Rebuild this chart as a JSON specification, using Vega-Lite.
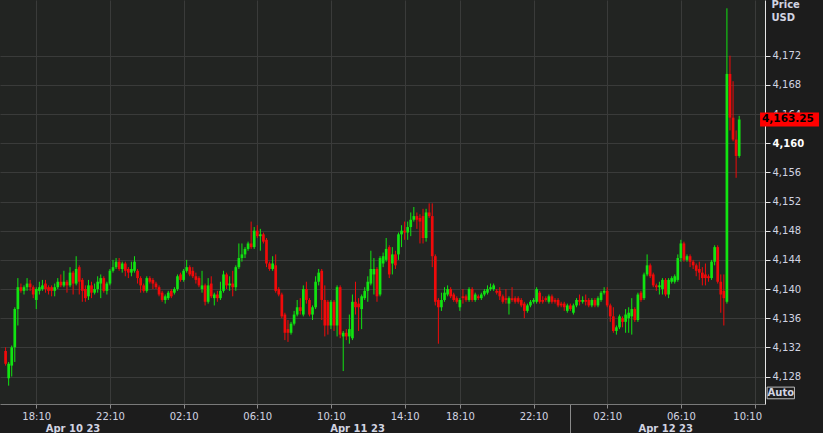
{
  "$schema": "https://vega.github.io/schema/vega-lite/v6.json",
  "width": 765,
  "height": 404,
  "autosize": {"type": "none"},
  "padding": {"left": 0, "top": 0, "right": 58, "bottom": 29},
  "background": "#1c1c1c",
  "config": {"view": {"fill": "#222422", "stroke": null}, "font": "DejaVu Sans"},
  "datasets": {
    "candles": [
      {"i":-1,"o":4131.5,"h":4132,"l":4129.5,"c":4129.75},
      {"i":0,"o":4127.75,"h":4130,"l":4126.75,"c":4129.75},
      {"i":1,"o":4129.5,"h":4132.25,"l":4128,"c":4132},
      {"i":2,"o":4132,"h":4137.5,"l":4130,"c":4137.25},
      {"i":3,"o":4137.25,"h":4141.5,"l":4135,"c":4140.25},
      {"i":4,"o":4140.25,"h":4140.75,"l":4139.5,"c":4139.75},
      {"i":5,"o":4139.75,"h":4140.5,"l":4139.25,"c":4140.25},
      {"i":6,"o":4140.25,"h":4141.5,"l":4139.75,"c":4140.75},
      {"i":7,"o":4140.75,"h":4141.25,"l":4139.75,"c":4140.25},
      {"i":8,"o":4140.25,"h":4140.5,"l":4138.75,"c":4139.25},
      {"i":9,"o":4138.5,"h":4140.25,"l":4137.25,"c":4140},
      {"i":10,"o":4139.75,"h":4141,"l":4139.25,"c":4140.25},
      {"i":11,"o":4140,"h":4141.25,"l":4139.75,"c":4140.5},
      {"i":12,"o":4140.75,"h":4141.25,"l":4139.5,"c":4140},
      {"i":13,"o":4140.25,"h":4140.5,"l":4139.25,"c":4139.75},
      {"i":14,"o":4140.25,"h":4140.5,"l":4139,"c":4139.75},
      {"i":15,"o":4139.75,"h":4140.75,"l":4139,"c":4140.25},
      {"i":16,"o":4140.25,"h":4141.5,"l":4140,"c":4141},
      {"i":17,"o":4141,"h":4142,"l":4140.25,"c":4140.5},
      {"i":18,"o":4140.5,"h":4142.5,"l":4140.25,"c":4141},
      {"i":19,"o":4141,"h":4141.25,"l":4139.5,"c":4140.5},
      {"i":20,"o":4140.5,"h":4143,"l":4140.25,"c":4142.25},
      {"i":21,"o":4142.25,"h":4142.5,"l":4139.25,"c":4140.75},
      {"i":22,"o":4140.75,"h":4144.5,"l":4140.5,"c":4142.75},
      {"i":23,"o":4143,"h":4143.25,"l":4139.25,"c":4141},
      {"i":24,"o":4141.25,"h":4141.5,"l":4138.25,"c":4139.75},
      {"i":25,"o":4140,"h":4140.5,"l":4138.25,"c":4138.75},
      {"i":26,"o":4139,"h":4141.25,"l":4138.5,"c":4140.5},
      {"i":27,"o":4140.5,"h":4141,"l":4138.75,"c":4139.5},
      {"i":28,"o":4139.5,"h":4140.75,"l":4139.25,"c":4140},
      {"i":29,"o":4140,"h":4141.75,"l":4139.5,"c":4141},
      {"i":30,"o":4140.75,"h":4142,"l":4138.75,"c":4141.5},
      {"i":31,"o":4141.5,"h":4141.75,"l":4139.5,"c":4139.75},
      {"i":32,"o":4139.75,"h":4141,"l":4139.25,"c":4140.75},
      {"i":33,"o":4140.75,"h":4142.75,"l":4140.5,"c":4142.5},
      {"i":34,"o":4142.5,"h":4144,"l":4142.25,"c":4143},
      {"i":35,"o":4143,"h":4144.25,"l":4142.75,"c":4143.75},
      {"i":36,"o":4143.75,"h":4144.25,"l":4142.5,"c":4142.75},
      {"i":37,"o":4142.75,"h":4143.75,"l":4142.25,"c":4143.5},
      {"i":38,"o":4143.5,"h":4143.75,"l":4141.75,"c":4142.5},
      {"i":39,"o":4142.75,"h":4143,"l":4141.5,"c":4142.25},
      {"i":40,"o":4142.25,"h":4143.75,"l":4141.75,"c":4142.75},
      {"i":41,"o":4142.5,"h":4144.5,"l":4142.25,"c":4143.75},
      {"i":42,"o":4142.5,"h":4142.75,"l":4140.75,"c":4141.5},
      {"i":43,"o":4141.5,"h":4141.75,"l":4139.5,"c":4140.5},
      {"i":44,"o":4140.5,"h":4140.75,"l":4139.5,"c":4139.75},
      {"i":45,"o":4139.75,"h":4141.75,"l":4139.5,"c":4141.5},
      {"i":46,"o":4141.5,"h":4141.75,"l":4140.75,"c":4141},
      {"i":47,"o":4141.25,"h":4141.5,"l":4140,"c":4140.75},
      {"i":48,"o":4140.75,"h":4141,"l":4140,"c":4140.25},
      {"i":49,"o":4140.25,"h":4140.5,"l":4139,"c":4139.25},
      {"i":50,"o":4139.5,"h":4139.75,"l":4138.25,"c":4138.5},
      {"i":51,"o":4138.5,"h":4139.25,"l":4138,"c":4139},
      {"i":52,"o":4138.75,"h":4139.75,"l":4138.5,"c":4139.5},
      {"i":53,"o":4139.75,"h":4140,"l":4138.75,"c":4139},
      {"i":54,"o":4139.5,"h":4140.25,"l":4139.25,"c":4140},
      {"i":55,"o":4140,"h":4142,"l":4139.75,"c":4141.75},
      {"i":56,"o":4142,"h":4142.25,"l":4141,"c":4141.25},
      {"i":57,"o":4141.25,"h":4142.75,"l":4141,"c":4142.5},
      {"i":58,"o":4142.5,"h":4144,"l":4142.25,"c":4143},
      {"i":59,"o":4143,"h":4143.25,"l":4141.75,"c":4142},
      {"i":60,"o":4142.5,"h":4143,"l":4141.5,"c":4141.75},
      {"i":61,"o":4141.75,"h":4142.25,"l":4140.75,"c":4141.25},
      {"i":62,"o":4141.5,"h":4141.75,"l":4140.25,"c":4140.5},
      {"i":63,"o":4140,"h":4142.5,"l":4139.5,"c":4140.5},
      {"i":64,"o":4140.5,"h":4140.75,"l":4137.75,"c":4138.25},
      {"i":65,"o":4138.25,"h":4141.5,"l":4138,"c":4140.5},
      {"i":66,"o":4140.75,"h":4141.75,"l":4138.75,"c":4139},
      {"i":67,"o":4138.75,"h":4139.5,"l":4137.75,"c":4139.25},
      {"i":68,"o":4139.25,"h":4139.75,"l":4138.25,"c":4138.75},
      {"i":69,"o":4138.75,"h":4141,"l":4138.5,"c":4139.75},
      {"i":70,"o":4139.75,"h":4142.5,"l":4139.5,"c":4142},
      {"i":71,"o":4142,"h":4142.25,"l":4140,"c":4140.5},
      {"i":72,"o":4140.5,"h":4141.75,"l":4139.75,"c":4140.75},
      {"i":73,"o":4140.75,"h":4142.5,"l":4139,"c":4140.25},
      {"i":74,"o":4140.25,"h":4143.25,"l":4139.75,"c":4143},
      {"i":75,"o":4143,"h":4146.25,"l":4142.75,"c":4144.25},
      {"i":76,"o":4144.25,"h":4146.25,"l":4143.75,"c":4144.75},
      {"i":77,"o":4144.75,"h":4145.75,"l":4144.25,"c":4145.5},
      {"i":78,"o":4145.5,"h":4146.5,"l":4145.25,"c":4146.25},
      {"i":79,"o":4146.25,"h":4149.25,"l":4145.5,"c":4145.75},
      {"i":80,"o":4145.75,"h":4148.5,"l":4145.5,"c":4148},
      {"i":81,"o":4148,"h":4148.75,"l":4147,"c":4147.25},
      {"i":82,"o":4147.25,"h":4148.25,"l":4145.25,"c":4147.5},
      {"i":83,"o":4147.5,"h":4147.75,"l":4146.25,"c":4146.5},
      {"i":84,"o":4146.75,"h":4147,"l":4143,"c":4143.5},
      {"i":85,"o":4143.5,"h":4143.75,"l":4142.5,"c":4142.75},
      {"i":86,"o":4142.75,"h":4144.5,"l":4142.5,"c":4143.5},
      {"i":87,"o":4143.25,"h":4144.75,"l":4139.5,"c":4139.75},
      {"i":88,"o":4140,"h":4140.25,"l":4139,"c":4139.25},
      {"i":89,"o":4139.25,"h":4139.5,"l":4136,"c":4136.25},
      {"i":90,"o":4136.5,"h":4136.75,"l":4133,"c":4134},
      {"i":91,"o":4134.5,"h":4135.75,"l":4132.75,"c":4134},
      {"i":92,"o":4134,"h":4135.5,"l":4133.75,"c":4135.25},
      {"i":93,"o":4135.25,"h":4137,"l":4135,"c":4136.5},
      {"i":94,"o":4136.5,"h":4138.5,"l":4136.25,"c":4137.5},
      {"i":95,"o":4137.5,"h":4138.75,"l":4136.5,"c":4137},
      {"i":96,"o":4136.5,"h":4140.5,"l":4136.25,"c":4140},
      {"i":97,"o":4140,"h":4141,"l":4138,"c":4138.5},
      {"i":98,"o":4138.5,"h":4138.75,"l":4136.25,"c":4136.5},
      {"i":99,"o":4136.5,"h":4137.75,"l":4135.75,"c":4137.5},
      {"i":100,"o":4137.5,"h":4141.75,"l":4137.25,"c":4141},
      {"i":101,"o":4141,"h":4142.75,"l":4140.5,"c":4142.25},
      {"i":102,"o":4142.5,"h":4142.75,"l":4135.75,"c":4138.5},
      {"i":103,"o":4138.5,"h":4140.5,"l":4133.5,"c":4135},
      {"i":104,"o":4138.25,"h":4138.5,"l":4133.75,"c":4135},
      {"i":105,"o":4135,"h":4138.5,"l":4134.5,"c":4138.25},
      {"i":106,"o":4138.25,"h":4138.5,"l":4134.25,"c":4135},
      {"i":107,"o":4135,"h":4140.5,"l":4133.5,"c":4140.25},
      {"i":108,"o":4140.25,"h":4140.5,"l":4133.25,"c":4133.75},
      {"i":109,"o":4133.5,"h":4134.25,"l":4128.75,"c":4134},
      {"i":110,"o":4134,"h":4134.5,"l":4133,"c":4133.5},
      {"i":111,"o":4133.5,"h":4136.5,"l":4132.5,"c":4134.5},
      {"i":112,"o":4133.25,"h":4139.25,"l":4133,"c":4138.25},
      {"i":113,"o":4138.25,"h":4141,"l":4136.5,"c":4137.5},
      {"i":114,"o":4138,"h":4138.75,"l":4134.25,"c":4137.5},
      {"i":115,"o":4137.25,"h":4139.25,"l":4134.5,"c":4139},
      {"i":116,"o":4138.75,"h":4140.25,"l":4138.5,"c":4139.75},
      {"i":117,"o":4139.75,"h":4141.75,"l":4138.25,"c":4141},
      {"i":118,"o":4140.75,"h":4145.25,"l":4140.5,"c":4142.75},
      {"i":119,"o":4142,"h":4144.25,"l":4139.25,"c":4142.75},
      {"i":120,"o":4142.75,"h":4143,"l":4138.25,"c":4139},
      {"i":121,"o":4139.25,"h":4144.5,"l":4139,"c":4144.25},
      {"i":122,"o":4143.5,"h":4145,"l":4143,"c":4144.5},
      {"i":123,"o":4144,"h":4147,"l":4143.75,"c":4145.5},
      {"i":124,"o":4145.75,"h":4146,"l":4141.5,"c":4142},
      {"i":125,"o":4143.5,"h":4145.75,"l":4142,"c":4144.75},
      {"i":126,"o":4144.75,"h":4145.25,"l":4142.75,"c":4143.25},
      {"i":127,"o":4144.75,"h":4147.75,"l":4144,"c":4147.5},
      {"i":128,"o":4147.5,"h":4148.75,"l":4145.75,"c":4148},
      {"i":129,"o":4148,"h":4149.25,"l":4146.75,"c":4147.75},
      {"i":130,"o":4147.75,"h":4149.25,"l":4146.75,"c":4148.5},
      {"i":131,"o":4148.5,"h":4150.5,"l":4147.25,"c":4149.5},
      {"i":132,"o":4149.5,"h":4151.25,"l":4149.25,"c":4150},
      {"i":133,"o":4150,"h":4150.5,"l":4148.25,"c":4149.5},
      {"i":134,"o":4149.75,"h":4150.25,"l":4146.25,"c":4149.25},
      {"i":135,"o":4150,"h":4151,"l":4146.25,"c":4147},
      {"i":136,"o":4147,"h":4151,"l":4146.5,"c":4150.5},
      {"i":137,"o":4150.5,"h":4151.75,"l":4149.75,"c":4150},
      {"i":138,"o":4150,"h":4151.75,"l":4143,"c":4144.5},
      {"i":139,"o":4144.5,"h":4144.75,"l":4137.75,"c":4138.25},
      {"i":140,"o":4138.5,"h":4138.75,"l":4132.5,"c":4137.5},
      {"i":141,"o":4137.5,"h":4139.5,"l":4137,"c":4138.5},
      {"i":142,"o":4138.5,"h":4140.25,"l":4138.25,"c":4139.5},
      {"i":143,"o":4139.25,"h":4140.5,"l":4139,"c":4140},
      {"i":144,"o":4140,"h":4140.25,"l":4138.75,"c":4139},
      {"i":145,"o":4139.25,"h":4139.5,"l":4138.25,"c":4138.5},
      {"i":146,"o":4138.75,"h":4139,"l":4138,"c":4138.25},
      {"i":147,"o":4137.5,"h":4138.75,"l":4137,"c":4138.5},
      {"i":148,"o":4139,"h":4140,"l":4138,"c":4138.75},
      {"i":149,"o":4139,"h":4139.25,"l":4138.25,"c":4138.5},
      {"i":150,"o":4138.5,"h":4140.25,"l":4138.25,"c":4140},
      {"i":151,"o":4140,"h":4140.25,"l":4138.25,"c":4138.5},
      {"i":152,"o":4138.5,"h":4139.5,"l":4138.25,"c":4139.25},
      {"i":153,"o":4139,"h":4139.25,"l":4138.5,"c":4138.75},
      {"i":154,"o":4138.75,"h":4139.5,"l":4138.5,"c":4139.25},
      {"i":155,"o":4139.25,"h":4140,"l":4139,"c":4139.75},
      {"i":156,"o":4139.5,"h":4140.5,"l":4139.25,"c":4140},
      {"i":157,"o":4140,"h":4140.75,"l":4139.75,"c":4140.25},
      {"i":158,"o":4140,"h":4140.75,"l":4139.75,"c":4140.5},
      {"i":159,"o":4139.75,"h":4140,"l":4139.25,"c":4139.5},
      {"i":160,"o":4139.75,"h":4140.25,"l":4138.5,"c":4139},
      {"i":161,"o":4139,"h":4139.25,"l":4138,"c":4138.25},
      {"i":162,"o":4138.75,"h":4140,"l":4138,"c":4138.5},
      {"i":163,"o":4138,"h":4139,"l":4136.5,"c":4138.75},
      {"i":164,"o":4138.75,"h":4140.25,"l":4138.25,"c":4138.5},
      {"i":165,"o":4138.75,"h":4139,"l":4138,"c":4138.25},
      {"i":166,"o":4138.75,"h":4139,"l":4138,"c":4138.25},
      {"i":167,"o":4138.5,"h":4138.75,"l":4137.5,"c":4137.75},
      {"i":168,"o":4138,"h":4138.25,"l":4136,"c":4137},
      {"i":169,"o":4137,"h":4138,"l":4136.75,"c":4137.75},
      {"i":170,"o":4137.75,"h":4138.5,"l":4137.5,"c":4138.25},
      {"i":171,"o":4138.25,"h":4138.75,"l":4138,"c":4138.5},
      {"i":172,"o":4138.25,"h":4140.25,"l":4138,"c":4140},
      {"i":173,"o":4139.5,"h":4139.75,"l":4138,"c":4138.25},
      {"i":174,"o":4138.5,"h":4139,"l":4138,"c":4138.25},
      {"i":175,"o":4138.75,"h":4139,"l":4138.25,"c":4138.5},
      {"i":176,"o":4138.25,"h":4139.25,"l":4138,"c":4139},
      {"i":177,"o":4139,"h":4139.25,"l":4138,"c":4138.25},
      {"i":178,"o":4138.5,"h":4138.75,"l":4138,"c":4138.25},
      {"i":179,"o":4138.5,"h":4138.75,"l":4137.5,"c":4137.75},
      {"i":180,"o":4138,"h":4138.25,"l":4137.5,"c":4137.75},
      {"i":181,"o":4138,"h":4138.25,"l":4137,"c":4137.5},
      {"i":182,"o":4137,"h":4138,"l":4136.75,"c":4137.75},
      {"i":183,"o":4137.75,"h":4138,"l":4137,"c":4137.25},
      {"i":184,"o":4136.75,"h":4138,"l":4136.5,"c":4137.75},
      {"i":185,"o":4137.75,"h":4138.75,"l":4137.5,"c":4138.5},
      {"i":186,"o":4138.5,"h":4139.25,"l":4137.75,"c":4138.25},
      {"i":187,"o":4138.25,"h":4139,"l":4138,"c":4138.5},
      {"i":188,"o":4138.5,"h":4139.25,"l":4137.75,"c":4138.25},
      {"i":189,"o":4138.5,"h":4138.75,"l":4137.5,"c":4137.75},
      {"i":190,"o":4137.75,"h":4138.75,"l":4137.5,"c":4138.5},
      {"i":191,"o":4138.5,"h":4138.75,"l":4137.5,"c":4137.75},
      {"i":192,"o":4137.75,"h":4139,"l":4137.5,"c":4138.75},
      {"i":193,"o":4138.5,"h":4139.75,"l":4138.25,"c":4139.5},
      {"i":194,"o":4139.5,"h":4140.25,"l":4139.25,"c":4139.75},
      {"i":195,"o":4139.75,"h":4140.25,"l":4137.5,"c":4137.75},
      {"i":196,"o":4137.75,"h":4138,"l":4135.5,"c":4136.25},
      {"i":197,"o":4136.25,"h":4137.5,"l":4134,"c":4134.25},
      {"i":198,"o":4134.25,"h":4135,"l":4133.75,"c":4134.75},
      {"i":199,"o":4134.75,"h":4136.5,"l":4134.5,"c":4136.25},
      {"i":200,"o":4136,"h":4136.25,"l":4134.75,"c":4135.5},
      {"i":201,"o":4135.5,"h":4137.25,"l":4134,"c":4136.5},
      {"i":202,"o":4136,"h":4137.5,"l":4134,"c":4136.75},
      {"i":203,"o":4136.25,"h":4138.75,"l":4133.75,"c":4137.25},
      {"i":204,"o":4137.25,"h":4137.5,"l":4135.5,"c":4135.75},
      {"i":205,"o":4135.75,"h":4139.5,"l":4135.5,"c":4139.25},
      {"i":206,"o":4139.5,"h":4139.75,"l":4138.25,"c":4138.5},
      {"i":207,"o":4138.75,"h":4142.25,"l":4138.5,"c":4142},
      {"i":208,"o":4142,"h":4144.75,"l":4141.75,"c":4143.25},
      {"i":209,"o":4143.25,"h":4143.5,"l":4141.5,"c":4141.75},
      {"i":210,"o":4142,"h":4142.25,"l":4140.25,"c":4140.5},
      {"i":211,"o":4140.5,"h":4140.75,"l":4139.75,"c":4140.25},
      {"i":212,"o":4140.25,"h":4141,"l":4139.25,"c":4140.5},
      {"i":213,"o":4140,"h":4141.5,"l":4139.25,"c":4141.25},
      {"i":214,"o":4141.25,"h":4141.5,"l":4139,"c":4139.25},
      {"i":215,"o":4139.25,"h":4141.5,"l":4138.75,"c":4141.25},
      {"i":216,"o":4141,"h":4141.75,"l":4140.75,"c":4141.5},
      {"i":217,"o":4141,"h":4142,"l":4140.75,"c":4141.75},
      {"i":218,"o":4141.25,"h":4144.75,"l":4141,"c":4144.25},
      {"i":219,"o":4144.25,"h":4146.75,"l":4143.75,"c":4146.25},
      {"i":220,"o":4146.25,"h":4146.5,"l":4143.75,"c":4144},
      {"i":221,"o":4144,"h":4144.75,"l":4143.75,"c":4144.5},
      {"i":222,"o":4144.5,"h":4144.75,"l":4143,"c":4143.75},
      {"i":223,"o":4143.75,"h":4144,"l":4142.75,"c":4143.25},
      {"i":224,"o":4143.25,"h":4143.5,"l":4141.75,"c":4142.5},
      {"i":225,"o":4142.75,"h":4143.75,"l":4141.25,"c":4142.25},
      {"i":226,"o":4142.25,"h":4143,"l":4140.5,"c":4141.5},
      {"i":227,"o":4142,"h":4143.5,"l":4140.5,"c":4141.5},
      {"i":228,"o":4141.75,"h":4142,"l":4141,"c":4141.5},
      {"i":229,"o":4141.5,"h":4144,"l":4141.25,"c":4143.75},
      {"i":230,"o":4143.75,"h":4146,"l":4143.25,"c":4145.75},
      {"i":231,"o":4145.75,"h":4146,"l":4140.75,"c":4141},
      {"i":232,"o":4141,"h":4142,"l":4136.75,"c":4139.25},
      {"i":233,"o":4139.75,"h":4142,"l":4135,"c":4138.75},
      {"i":234,"o":4138.25,"h":4178.5,"l":4138,"c":4169.5},
      {"i":235,"o":4169.5,"h":4172,"l":4161.75,"c":4163.5},
      {"i":236,"o":4163.5,"h":4168.5,"l":4160.25,"c":4160.5},
      {"i":237,"o":4160.5,"h":4161.75,"l":4155.25,"c":4158.25},
      {"i":238,"o":4158.25,"h":4163.75,"l":4158,"c":4163.25}
    ],
    "last": [{"p": 4163.25}]
  },
  "layer": [
    {
      "data": {"name": "candles"},
      "mark": {"type": "rule", "strokeWidth": 1},
      "encoding": {
        "x": {
          "field": "i", "type": "quantitative",
          "scale": {"domain": [-1.19, 244.78], "nice": false, "zero": false},
          "axis": {
            "orient": "bottom",
            "title": null,
            "tickCount": 40,
            "values": [9, 20.8, 33, 57, 81, 105, 113.5, 129, 147, 171, 183, 195, 213.9, 219, 240.6, 243],
            "labelExpr": "datum.value==9||datum.value==147?'18:10':datum.value==33||datum.value==171?'22:10':datum.value==57||datum.value==195?'02:10':datum.value==81||datum.value==219?'06:10':datum.value==105||datum.value==240.6?'10:10':datum.value==129?'14:10':datum.value==20.8?['','Apr 10 23']:datum.value==113.5?['','Apr 11 23']:datum.value==213.9?['','Apr 12 23']:''",
            "labelOverlap": false,
            "labelFlush": false,
            "labelBound": false,
            "labelFont": "DejaVu Sans",
            "labelFontSize": 10,
            "labelColor": "#d2d4e2",
            "labelPadding": 3,
            "labelLineHeight": 12,
            "labelFontWeight": {"condition": {"test": "datum.value == 20.8 || datum.value == 113.5 || datum.value == 213.9", "value": "bold"}, "value": "normal"},
            "grid": true,
            "gridColor": "#3a3b3a",
            "gridOpacity": {"condition": {"test": "datum.value == 20.8 || datum.value == 113.5 || datum.value == 213.9 || datum.value == 183 || datum.value == 240.6", "value": 0}, "value": 1},
            "domainColor": "#7a7a7a",
            "tickColor": "#8a8a8a",
            "tickSize": {"condition": {"test": "datum.value == 183", "value": 29}, "value": 4},
            "tickOpacity": {"condition": {"test": "datum.value == 20.8 || datum.value == 113.5 || datum.value == 213.9 || datum.value == 240.6", "value": 0}, "value": 1}
          }
        },
        "y": {
          "field": "l", "type": "quantitative",
          "scale": {"domain": [4124.92, 4178.95], "nice": false, "zero": false},
          "axis": {
            "orient": "right",
            "tickCount": 40,
            "values": [4128, 4132, 4136, 4140, 4144, 4148, 4152, 4156, 4160, 4164, 4168, 4172],
            "format": ",",
            "labelOverlap": false,
            "labelBound": false,
            "labelFlush": false,
            "labelFont": "DejaVu Sans",
            "labelFontSize": 10,
            "labelColor": {"condition": {"test": "datum.value == 4160", "value": "#ffffff"}, "value": "#d2d4e2"},
            "labelFontWeight": {"condition": {"test": "datum.value == 4160", "value": "bold"}, "value": "normal"},
            "labelPadding": 2,
            "tickSize": 5,
            "tickColor": "#e6e6e6",
            "domainColor": "#e6e6e6",
            "grid": true,
            "gridColor": "#3a3b3a",
            "title": ["Price", "USD"],
            "titleAngle": 0,
            "titleAlign": "left",
            "titleBaseline": "alphabetic",
            "titleX": 6,
            "titleY": 7,
            "titleLineHeight": 13,
            "titleFont": "DejaVu Sans",
            "titleFontSize": 10,
            "titleFontWeight": "bold",
            "titleColor": "#d2d4e2"
          }
        },
        "y2": {"field": "h"},
        "color": {"condition": {"test": "datum.c >= datum.o", "value": "#11e411"}, "value": "#f00a0a"}
      }
    },
    {
      "data": {"name": "candles"},
      "mark": {"type": "bar", "size": 2.7},
      "encoding": {
        "x": {"field": "i", "type": "quantitative"},
        "y": {"field": "o", "type": "quantitative"},
        "y2": {"field": "c"},
        "color": {"condition": {"test": "datum.c >= datum.o", "value": "#11e411"}, "value": "#f00a0a"}
      }
    },
    {
      "data": {"name": "last"},
      "mark": {"type": "bar", "size": 14, "color": "#ff0000"},
      "encoding": {
        "x": {"datum": 244.8},
        "x2": {"datum": 264},
        "y": {"field": "p", "type": "quantitative"}
      }
    },
    {
      "data": {"name": "last"},
      "mark": {"type": "text", "align": "left", "baseline": "middle", "dx": 2, "font": "DejaVu Sans", "fontSize": 10.5, "fontWeight": "bold", "color": "#000000"},
      "encoding": {
        "x": {"datum": 244.8},
        "y": {"field": "p", "type": "quantitative"},
        "text": {"field": "p", "type": "quantitative", "format": ",.2f"}
      }
    },
    {
      "data": {"values": [{"label": "Auto"}]},
      "mark": {"type": "rect", "fill": "#1c1c1c", "stroke": "#bdbdbd", "strokeWidth": 1},
      "encoding": {
        "x": {"datum": 247.1},
        "x2": {"datum": 256.0},
        "y": {"datum": 4126.55},
        "y2": {"datum": 4124.95}
      }
    },
    {
      "data": {"values": [{"label": "Auto"}]},
      "mark": {"type": "text", "align": "center", "baseline": "middle", "font": "DejaVu Sans", "fontSize": 10, "fontWeight": "bold", "color": "#d2d4e2"},
      "encoding": {
        "x": {"datum": 251.55},
        "y": {"datum": 4125.75},
        "text": {"field": "label", "type": "nominal"}
      }
    }
  ]
}
